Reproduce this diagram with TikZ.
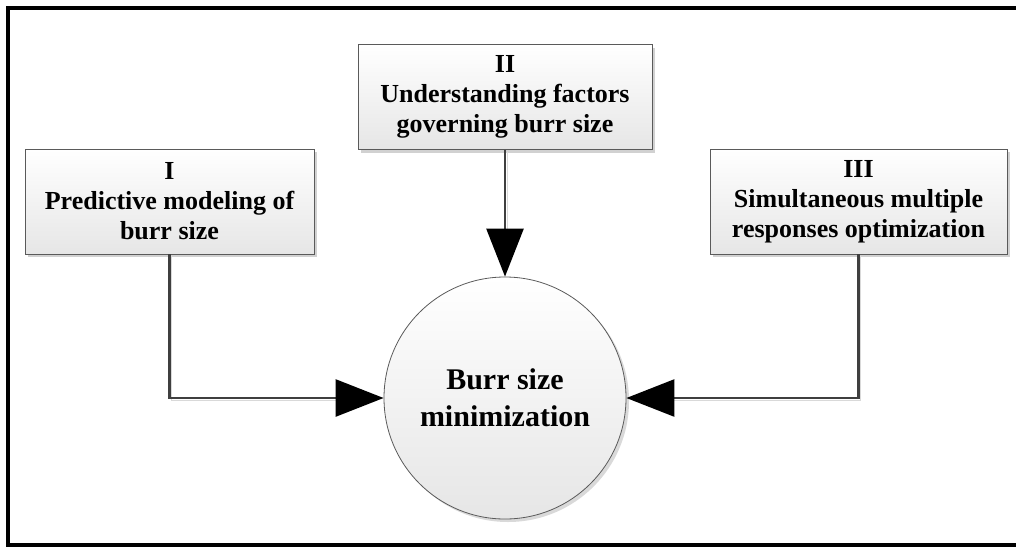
\documentclass[tikz,border=0pt]{standalone}
\usepackage{fontspec}
\setmainfont{Liberation Serif}
\usepackage{tikz}
\usetikzlibrary{arrows.meta, shadows, positioning}
\definecolor{linegray}{HTML}{3F3F3F}
\definecolor{edgegray}{HTML}{5A5A5A}
\definecolor{fillbottom}{HTML}{E6E6E6}

\begin{document}
\begin{tikzpicture}[x=1pt, y=-1pt,
  stagebox/.style={draw=edgegray, line width=0.8pt, top color=white, bottom color=fillbottom,
    minimum width=292pt, minimum height=105pt, inner sep=0pt, align=center,
    font=\fontsize{26}{30}\selectfont\bfseries,
    drop shadow={shadow xshift=3pt, shadow yshift=-3pt, fill=black!18, opacity=1}},
  goal/.style={circle, draw=edgegray, line width=0.8pt, top color=white, bottom color=fillbottom,
    minimum size=242pt, inner sep=0pt, align=center,
    font=\fontsize{30}{37}\selectfont\bfseries,
    drop shadow={shadow xshift=3pt, shadow yshift=-3pt, fill=black!15, opacity=1}},
  feed/.style={draw=linegray, line width=2.6pt,
    preaction={draw=black!15, arrows=-, shorten >=30pt, transform canvas={shift={(2pt,-2pt)}}},
    -{Triangle[length=48pt, width=37pt, color=black]}},
  frameline/.style={draw=black, line width=4pt}]
  \useasboundingbox (0,0) rectangle (1016,546);

  % outer frame
  \draw[frameline] (1018,545) -- (8,545) -- (8,8) -- (1018,8);

  % stages
  \node[stagebox, minimum width=289pt] (stageI) at (169.5,201.5)
    {I\\Predictive modeling of\\burr size};
  \node[stagebox, minimum width=294pt] (stageII) at (505,97)
    {II\\Understanding factors\\governing burr size};
  \node[stagebox, minimum width=297pt] (stageIII) at (858.5,201.5)
    {III\\Simultaneous multiple\\responses optimization};

  % goal
  \node[goal] (burr) at (505,398) {Burr size\\minimization};

  % connectors
  \draw[feed] (stageI.south) |- (burr.west);
  \draw[feed] (stageII.south) -- (burr.north);
  \draw[feed] (stageIII.south) |- (burr.east);
\end{tikzpicture}
\end{document}
